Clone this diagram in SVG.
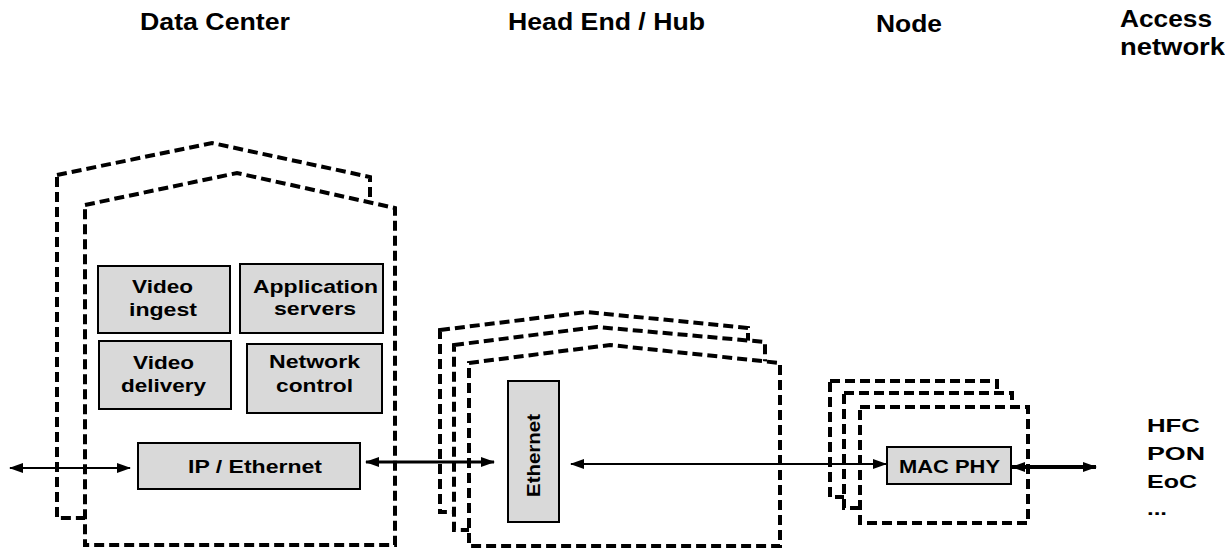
<svg xmlns="http://www.w3.org/2000/svg" width="1225" height="548" viewBox="0 0 1225 548">
<style>
.t{font-family:"Liberation Sans",Arial,sans-serif;font-weight:bold;fill:#000}
.h{font-size:23px}
.b{font-size:19px}
.dash{fill:#fff;stroke:#000;stroke-width:4;stroke-dasharray:10 5}
.box{fill:#d9d9d9;stroke:#000;stroke-width:2}
.c{stroke:#000;fill:none}
</style>
<defs>
<marker id="ah" markerWidth="14" markerHeight="10" refX="13" refY="5" orient="auto-start-reverse" markerUnits="userSpaceOnUse">
<path d="M0,0 L14,5 L0,10 Z" fill="#000"/>
</marker>
</defs>
<g id="headers">
<text class="t h" x="140" y="30" textLength="150" lengthAdjust="spacingAndGlyphs">Data Center</text>
<text class="t h" x="508" y="30" textLength="197" lengthAdjust="spacingAndGlyphs">Head End / Hub</text>
<text class="t h" x="876" y="32" textLength="66" lengthAdjust="spacingAndGlyphs">Node</text>
<text class="t h" x="1120" y="27" textLength="92" lengthAdjust="spacingAndGlyphs">Access</text>
<text class="t h" x="1120" y="55" textLength="105" lengthAdjust="spacingAndGlyphs">network</text>
</g>
<g id="datacenter">
<polygon class="dash" points="57,175 212,143 370,177 370,518 57,518"/>
<polygon class="dash" points="85,205 237,173 395,208 395,545 85,545"/>
</g>
<g id="video-ingest">
<rect class="box" x="98" y="266" width="132" height="67"/>
<text class="t b" x="132" y="293" textLength="61" lengthAdjust="spacingAndGlyphs">Video</text>
<text class="t b" x="129" y="316" textLength="68" lengthAdjust="spacingAndGlyphs">ingest</text>
</g>
<g id="application-servers">
<rect class="box" x="240" y="264" width="143" height="69"/>
<text class="t b" x="253" y="293" textLength="125" lengthAdjust="spacingAndGlyphs">Application</text>
<text class="t b" x="274" y="315" textLength="82" lengthAdjust="spacingAndGlyphs">servers</text>
</g>
<g id="video-delivery">
<rect class="box" x="99" y="341" width="132" height="68"/>
<text class="t b" x="133" y="369" textLength="61" lengthAdjust="spacingAndGlyphs">Video</text>
<text class="t b" x="121" y="392" textLength="85" lengthAdjust="spacingAndGlyphs">delivery</text>
</g>
<g id="network-control">
<rect class="box" x="247" y="344" width="135" height="69"/>
<text class="t b" x="269" y="368" textLength="91" lengthAdjust="spacingAndGlyphs">Network</text>
<text class="t b" x="276" y="392" textLength="77" lengthAdjust="spacingAndGlyphs">control</text>
</g>
<g id="ip-ethernet">
<rect class="box" x="138" y="443" width="222" height="46"/>
<text class="t b" x="188" y="473" textLength="134" lengthAdjust="spacingAndGlyphs">IP / Ethernet</text>
</g>
<g id="headend">
<polygon class="dash" points="440,330 587,312 748,328 748,512 440,512"/>
<polygon class="dash" points="454,345 597,327 765,342 765,530 454,530"/>
<polygon class="dash" points="469,363 610,345 780,363 780,546 469,546"/>
</g>
<g id="ethernet">
<rect class="box" x="508" y="381" width="51" height="141"/>
<text class="t b" transform="translate(540,497) rotate(-90)" x="0" y="0" textLength="83" lengthAdjust="spacingAndGlyphs">Ethernet</text>
</g>
<g id="node">
<rect class="dash" x="830" y="381" width="167" height="116"/>
<rect class="dash" x="844" y="393" width="168" height="115"/>
<rect class="dash" x="860" y="407" width="168" height="116"/>
</g>
<g id="mac-phy">
<rect class="box" x="887" y="447" width="124" height="37"/>
<text class="t b" x="899" y="473" textLength="101" lengthAdjust="spacingAndGlyphs">MAC PHY</text>
</g>
<g id="access">
<text class="t b" x="1147" y="432" textLength="53" lengthAdjust="spacingAndGlyphs">HFC</text>
<text class="t b" x="1147" y="460" textLength="58" lengthAdjust="spacingAndGlyphs">PON</text>
<text class="t b" x="1147" y="488" textLength="50" lengthAdjust="spacingAndGlyphs">EoC</text>
<text class="t b" x="1147" y="515" textLength="20" lengthAdjust="spacingAndGlyphs">...</text>
</g>
<g id="connectors">
<line class="c" x1="10" y1="468" x2="130" y2="468" stroke-width="2" marker-start="url(#ah)" marker-end="url(#ah)"/>
<line class="c" x1="366" y1="462" x2="494" y2="462" stroke-width="3" marker-start="url(#ah)" marker-end="url(#ah)"/>
<line class="c" x1="571" y1="464" x2="886" y2="464" stroke-width="2" marker-start="url(#ah)" marker-end="url(#ah)"/>
<line class="c" x1="1012" y1="467" x2="1096" y2="467" stroke-width="4" marker-start="url(#ah)" marker-end="url(#ah)"/>
</g>
</svg>
